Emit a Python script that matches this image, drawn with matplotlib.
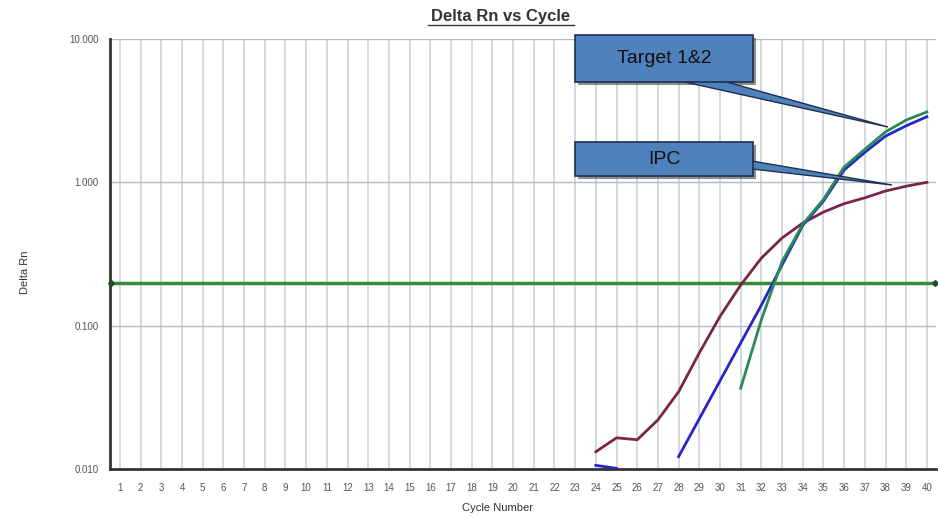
import numpy as np
import matplotlib
matplotlib.use('Agg')
import matplotlib.pyplot as plt
from matplotlib.patches import Polygon, Rectangle
from matplotlib.lines import Line2D

plt.rcParams['font.family'] = ['Liberation Sans', 'DejaVu Sans']

# ---- data ----
ipc_cycles = [24, 25, 26, 27, 28, 29, 30, 31, 32, 33, 34, 35, 36, 37, 38, 39, 40]
ipc_rn = [0.0132, 0.0165, 0.0160, 0.022, 0.0346, 0.0645, 0.116, 0.192, 0.296, 0.409,
          0.52, 0.62, 0.71, 0.78, 0.87, 0.94, 1.0]

t1_early_cycles = [24, 25]
t1_early_rn = [0.0106, 0.0101]
t1_cycles = [28, 29, 30, 31, 32, 33, 34, 35, 36, 37, 38, 39, 40]
t1_rn = [0.0122, 0.0224, 0.0412, 0.0757, 0.139, 0.265, 0.50, 0.74, 1.22, 1.62, 2.10, 2.48, 2.87]

t2_cycles = [31, 32, 33, 34, 35, 36, 37, 38, 39, 40]
t2_rn = [0.0366, 0.110, 0.280, 0.51, 0.76, 1.28, 1.70, 2.25, 2.72, 3.10]

threshold = 0.2
cycle_ticks = list(range(1, 41))
y_ticks = [0.01, 0.1, 1.0, 10.0]
y_labels = ['0.010', '0.100', '1.000', '10.000']

W, H = 938, 517
fig = plt.figure(figsize=(W / 100, H / 100), dpi=100)
fig.patch.set_facecolor('white')

def fx(px):
    return px / W

def fy(py):
    return 1 - py / H

ax = fig.add_axes([fx(110), fy(469), fx(826), 430 / H])
ax.set_yscale('log')
ax.set_xlim(0.52, 40.44)
ax.set_ylim(0.01, 10)

# grid
for c in cycle_ticks:
    ax.axvline(c, color='#c3d1d4', lw=1.1, zorder=1)
for v in [0.1, 1.0, 10.0]:
    ax.axhline(v, color='#aebcbe', lw=1.0, zorder=1)

# curves
ax.plot(ipc_cycles, ipc_rn, color='#7a2448', lw=2.0, zorder=4)
ax.plot(t1_early_cycles, t1_early_rn, color='#2626c8', lw=2.0, zorder=4)
ax.plot(t1_cycles, t1_rn, color='#2626c8', lw=2.0, zorder=4)
ax.plot(t2_cycles, t2_rn, color='#2a8a55', lw=2.0, zorder=5)

# threshold
ax.axhline(threshold, color='#3a8a3a', lw=2.5, zorder=3)
ax.plot([0.55, 40.4], [threshold, threshold], 'D', color='#1f4f1f', ms=3, zorder=6,
        clip_on=False)

ax.set_xticks(cycle_ticks)
ax.set_xticklabels([str(c) for c in cycle_ticks])
ax.set_yticks(y_ticks)
ax.set_yticklabels(y_labels)
ax.yaxis.set_minor_locator(matplotlib.ticker.NullLocator())
ax.tick_params(axis='both', length=0, labelsize=7, labelcolor='#555555')
ax.tick_params(axis='x', pad=10)
ax.tick_params(axis='y', pad=8)

for s in ['top', 'right']:
    ax.spines[s].set_visible(False)
for s in ['left', 'bottom']:
    ax.spines[s].set_color('#333333')
    ax.spines[s].set_linewidth(2.0)

# labels
fig.text(fx(501), fy(16), 'Delta Rn vs Cycle', ha='center', va='center',
         fontsize=12, fontweight='bold', color='#333333')
fig.add_artist(Line2D([fx(428), fx(574)], [fy(25), fy(25)], color='#333333', lw=1.0))
fig.text(fx(497), fy(508), 'Cycle Number', ha='center', va='center',
         fontsize=8, color='#333333')
fig.text(fx(25), fy(272), 'Delta Rn', ha='center', va='center', rotation=90,
         fontsize=8, color='#333333')

# callouts
box_fc = '#4f81bd'
box_ec = '#1f2f4f'

def callout(x0, y0, x1, y1, wedge, label):
    shadow = Rectangle((fx(x0 + 3), fy(y1 + 3)), fx(x1 - x0), (y1 - y0) / H,
                       transform=fig.transFigure, facecolor='#444444', alpha=0.6,
                       edgecolor='none', zorder=8)
    fig.add_artist(shadow)
    w = Polygon([(fx(px), fy(py)) for px, py in wedge], closed=True,
                transform=fig.transFigure, facecolor=box_fc, edgecolor=box_ec,
                lw=1.0, zorder=9)
    fig.add_artist(w)
    r = Rectangle((fx(x0), fy(y1)), fx(x1 - x0), (y1 - y0) / H,
                  transform=fig.transFigure, facecolor=box_fc, edgecolor=box_ec,
                  lw=1.2, zorder=10)
    fig.add_artist(r)
    fig.text(fx((x0 + x1) / 2), fy((y0 + y1) / 2), label, ha='center', va='center',
             fontsize=14, color='#111111', zorder=11)

callout(575, 35, 753, 82, [(680, 81), (723, 81), (888, 127)], 'Target 1&2')
callout(575, 142, 753, 176, [(752, 161), (752, 169), (892, 185)], 'IPC')

fig.savefig('out.png', dpi=100, facecolor='white')
